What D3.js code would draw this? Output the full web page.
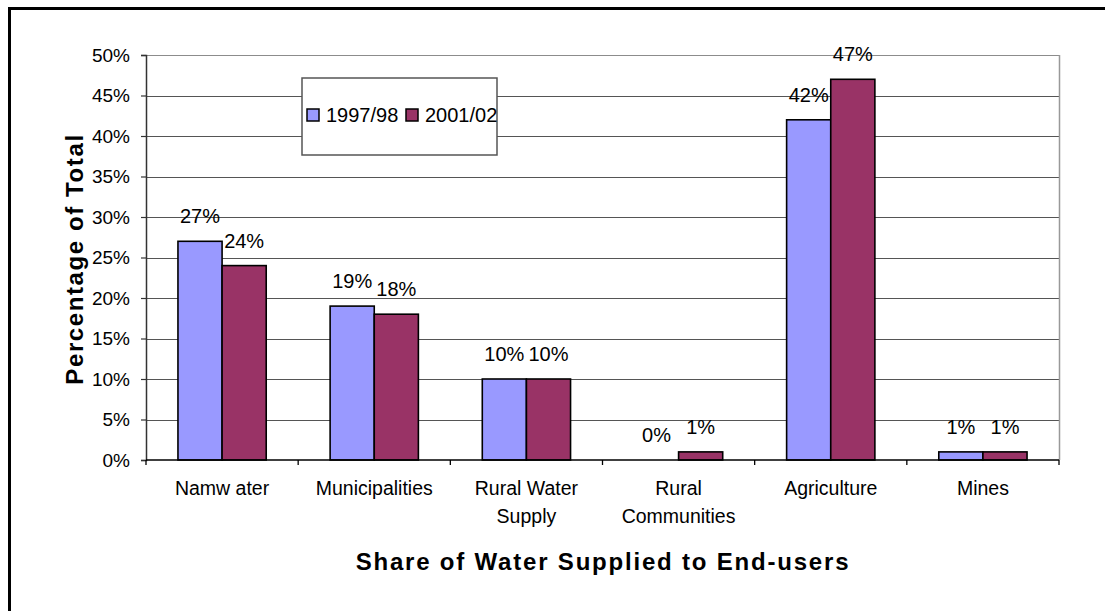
<!DOCTYPE html>
<html>
<head>
<meta charset="utf-8">
<script src="https://cdn.jsdelivr.net/npm/d3@7"></script>
<style>
  html, body { margin: 0; padding: 0; background: #fff; }
  svg { display: block; font-family: "Liberation Sans", Arial, sans-serif; }
</style>
</head>
<body>
<svg id="chart" width="1105" height="611"></svg>
<script>
const categories = [["Namw ater"], ["Municipalities"], ["Rural Water", "Supply"], ["Rural", "Communities"], ["Agriculture"], ["Mines"]];
const seriesNames = ["1997/98", "2001/02"];
const values1997 = [0.27, 0.19, 0.10, 0.00, 0.42, 0.01];
const values2001 = [0.24, 0.18, 0.10, 0.01, 0.47, 0.01];
const yTicks = [0, 0.05, 0.10, 0.15, 0.20, 0.25, 0.30, 0.35, 0.40, 0.45, 0.50];
const colors = ["#9999FF", "#993366"];

const svg = d3.select("#chart");

// outer frame
svg.append("rect").attr("x", 9.5).attr("y", 8.5).attr("width", 1200).attr("height", 800)
  .attr("fill", "none").attr("stroke", "#000").attr("stroke-width", 3);

const plot = { left: 146, right: 1059, top: 55, bottom: 460 };
const catKeys = categories.map((c, i) => i);
const x = d3.scaleBand().domain(catKeys).range([plot.left, plot.right]).paddingInner(0.42).paddingOuter(0.21);
const xs = d3.scaleBand().domain([0, 1]).range([0, x.bandwidth()]);
const y = d3.scaleLinear().domain([0, 0.5]).range([plot.bottom, plot.top]);

// gridlines
svg.append("g").selectAll("line").data(yTicks.filter(t => t > 0)).join("line")
  .attr("x1", plot.left).attr("x2", plot.right)
  .attr("y1", d => Math.round(y(d)) + 0.5).attr("y2", d => Math.round(y(d)) + 0.5)
  .attr("stroke", d => d === 0.5 ? "#8c8c8c" : "#555").attr("stroke-width", 1.2);

// right border of plot area
svg.append("line").attr("x1", plot.right + 0.5).attr("x2", plot.right + 0.5)
  .attr("y1", plot.top).attr("y2", plot.bottom).attr("stroke", "#999").attr("stroke-width", 1.5);

const series = [values1997, values2001];
const barsG = svg.append("g");
series.forEach((vals, s) => {
  barsG.selectAll(null).data(vals).join("rect")
    .attr("x", (d, i) => x(i) + xs(s))
    .attr("y", d => y(d))
    .attr("width", xs.bandwidth())
    .attr("height", d => y(0) - y(d))
    .attr("fill", colors[s])
    .attr("stroke", d => d > 0 ? "#000" : "none")
    .attr("stroke-width", 1.6);
});

// y axis
const yAxis = d3.axisLeft(y).tickValues(yTicks).tickFormat(d3.format(".0%")).tickSize(5).tickPadding(11);
const yg = svg.append("g").attr("transform", `translate(${plot.left},0)`).call(yAxis);
yg.select(".domain").attr("stroke", "#333").attr("stroke-width", 1.5);
yg.selectAll(".tick line").attr("stroke", "#333").attr("stroke-width", 1.2);
yg.selectAll(".tick text").attr("font-size", 19).attr("fill", "#000")
  .attr("font-family", "'Liberation Sans', Arial, sans-serif");

// x axis baseline + ticks at category boundaries
const boundaries = d3.range(categories.length + 1).map(i => plot.left + i * x.step());
svg.append("line").attr("x1", plot.left).attr("x2", plot.right)
  .attr("y1", y(0)).attr("y2", y(0)).attr("stroke", "#000").attr("stroke-width", 1.6);
svg.append("g").selectAll("line").data(boundaries).join("line")
  .attr("x1", d => d).attr("x2", d => d).attr("y1", y(0)).attr("y2", y(0) + 5)
  .attr("stroke", "#000").attr("stroke-width", 1.3);

// category labels
const catG = svg.append("g").attr("font-size", 19.5).attr("text-anchor", "middle").attr("fill", "#000");
categories.forEach((lines, i) => {
  const t = catG.append("text").attr("x", x(i) + x.bandwidth() / 2).attr("y", 495);
  lines.forEach((ln, j) => {
    t.append("tspan").attr("x", x(i) + x.bandwidth() / 2).attr("dy", j === 0 ? 0 : 28).text(ln);
  });
});

// data labels
const lblG = svg.append("g").attr("font-size", 20).attr("text-anchor", "middle").attr("fill", "#000");
series.forEach((vals, s) => {
  lblG.selectAll(null).data(vals).join("text")
    .attr("x", (d, i) => x(i) + xs(s) + xs.bandwidth() / 2)
    .attr("y", d => y(d) - 18)
    .text(d => d3.format(".0%")(d));
});

// legend
const lg = svg.append("g");
lg.append("rect").attr("x", 302).attr("y", 78).attr("width", 195).attr("height", 77)
  .attr("fill", "#fff").attr("stroke", "#555").attr("stroke-width", 1.5);
const legendX = [307, 406];
seriesNames.forEach((name, s) => {
  lg.append("rect").attr("x", legendX[s]).attr("y", 109).attr("width", 12).attr("height", 12)
    .attr("fill", colors[s]).attr("stroke", "#000").attr("stroke-width", 1.5);
  lg.append("text").attr("x", legendX[s] + 19).attr("y", 122).attr("font-size", 20).attr("fill", "#000").text(name);
});

// axis titles
svg.append("text").attr("transform", "translate(83,259) rotate(-90)")
  .attr("text-anchor", "middle").attr("font-size", 24).attr("font-weight", "bold")
  .attr("letter-spacing", "1.6px").attr("fill", "#000").text("Percentage of Total");
svg.append("text").attr("x", 603).attr("y", 570)
  .attr("text-anchor", "middle").attr("font-size", 24).attr("font-weight", "bold")
  .attr("letter-spacing", "1.8px").attr("fill", "#000").text("Share of Water Supplied to End-users");
</script>
</body>
</html>
